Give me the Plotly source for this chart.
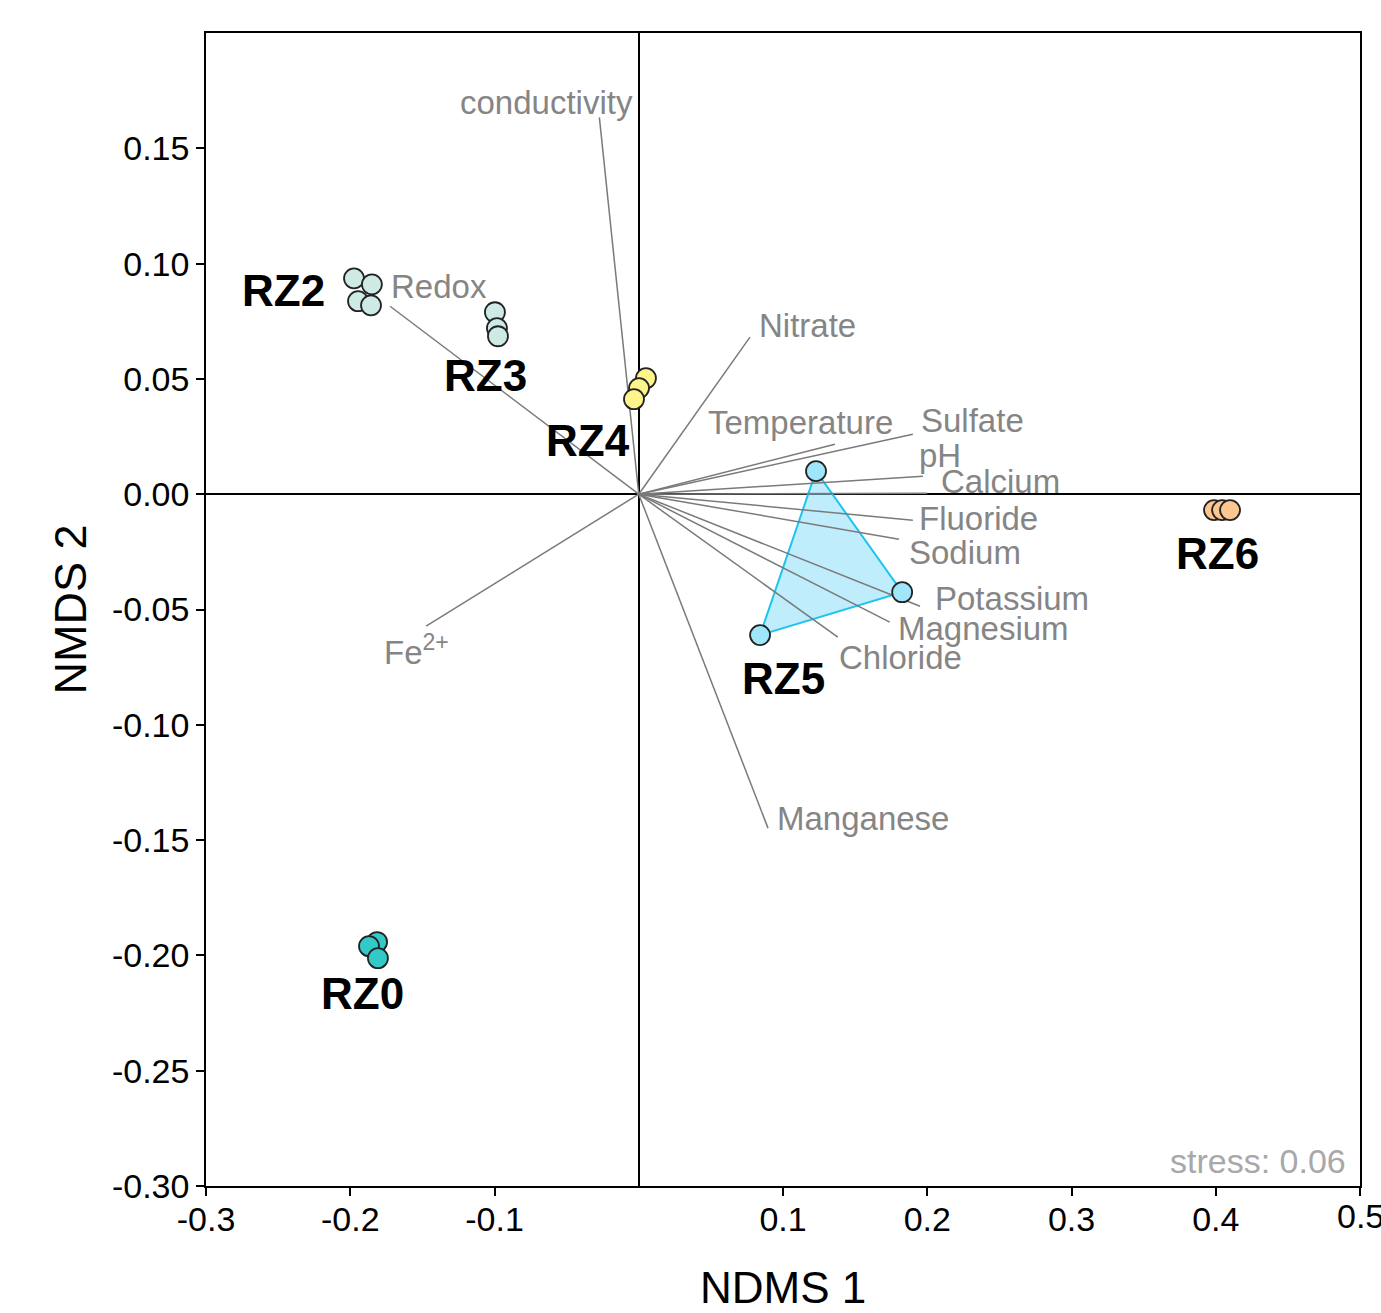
import plotly.graph_objects as go

# ---- Site scores (NMDS) ----
groups = ["RZ0", "RZ2", "RZ3", "RZ4", "RZ5", "RZ6"]
rz0_x = [-0.1814, -0.1870, -0.1808]
rz0_y = [-0.1942, -0.1960, -0.2012]
rz2_x = [-0.1974, -0.1850, -0.1946, -0.1856]
rz2_y = [0.0936, 0.0910, 0.0837, 0.0819]
rz3_x = [-0.0997, -0.0983, -0.0976]
rz3_y = [0.0789, 0.0720, 0.0685]
rz4_x = [0.0050, 0.0002, -0.0033]
rz4_y = [0.0503, 0.0460, 0.0412]
rz5_x = [0.1229, 0.1826, 0.0841]
rz5_y = [0.0100, -0.0425, -0.0611]
rz6_x = [0.3988, 0.4044, 0.4099]
rz6_y = [-0.0069, -0.0069, -0.0069]

# ---- Environmental vectors (endpoints) ----
var_names = ["conductivity", "Redox", "Nitrate", "Temperature", "Sulfate", "pH",
             "Calcium", "Fluoride", "Sodium", "Potassium", "Magnesium", "Chloride",
             "Manganese", "Fe<sup>2+</sup>"]
var_x = [-0.0273, -0.1724, 0.0771, 0.1360, 0.1900, 0.1970, 0.2000, 0.1900,
         0.1804, 0.1950, 0.1740, 0.1380, 0.0896, -0.1474]
var_y = [0.1634, 0.0815, 0.0681, 0.0217, 0.0260, 0.0078, 0.0004, -0.0113,
         -0.0195, -0.0486, -0.0555, -0.0620, -0.1448, -0.0572]

stress_text = "stress: 0.06"
x_tickvals = [-0.3, -0.2, -0.1, 0.1, 0.2, 0.3, 0.4, 0.5]
x_ticktext = ["-0.3", "-0.2", "-0.1", "0.1", "0.2", "0.3", "0.4", "0.5"]
y_tickvals = [0.15, 0.10, 0.05, 0.00, -0.05, -0.10, -0.15, -0.20, -0.25, -0.30]
y_ticktext = ["0.15", "0.10", "0.05", "0.00", "-0.05", "-0.10", "-0.15", "-0.20", "-0.25", "-0.30"]

# ---- Styling / layout helpers (not data) ----
FONT = "Liberation Sans, Arial, sans-serif"
GRAY = "#858585"
group_colors = {"RZ0": "#33c9c9", "RZ2": "#cdeae4", "RZ3": "#cdeae4",
                "RZ4": "#fdf58b", "RZ5": "#a0e6fa", "RZ6": "#fcc690"}
# group label positions (data coords)
group_label_pos = {"RZ0": (-0.1912, -0.2164), "RZ2": (-0.2466, 0.0884),
                   "RZ3": (-0.1059, 0.0516), "RZ4": (-0.0352, 0.0234),
                   "RZ5": (0.1000, -0.0798), "RZ6": (0.4015, -0.0256)}
# vector label anchors: (xanchor, xshift px, yshift px)
var_label_off = [("right", 35, 15), ("left", 0, 20), ("left", 8, 12), ("left", -128, 22),
                 ("left", 7, 14), ("left", -5, 21), ("left", 13, 12), ("left", 5, 2),
                 ("left", 9, -13), ("left", 14, 8), ("left", 7, -6), ("left", 0, -20),
                 ("left", 8, 10), ("left", -43, -24)]

fig = go.Figure()

# RZ5 hull
fig.add_trace(go.Scatter(x=rz5_x + [rz5_x[0]], y=rz5_y + [rz5_y[0]], mode="lines",
                         fill="toself", fillcolor="rgba(140,222,250,0.55)",
                         line=dict(color="#1fc3ef", width=2), hoverinfo="skip",
                         showlegend=False))

# vectors
vx, vy = [], []
for x, y in zip(var_x, var_y):
    vx += [0, x, None]
    vy += [0, y, None]
fig.add_trace(go.Scatter(x=vx, y=vy, mode="lines", line=dict(color="#7a7a7a", width=1.5),
                         hoverinfo="skip", showlegend=False))

# site points
data = {"RZ0": (rz0_x, rz0_y), "RZ2": (rz2_x, rz2_y), "RZ3": (rz3_x, rz3_y),
        "RZ4": (rz4_x, rz4_y), "RZ5": (rz5_x, rz5_y), "RZ6": (rz6_x, rz6_y)}
for g in groups:
    xs, ys = data[g]
    fig.add_trace(go.Scatter(x=xs, y=ys, mode="markers", name=g, showlegend=False,
                             marker=dict(size=20, color=group_colors[g],
                                         line=dict(color="#222222", width=1.8))))

annotations = []
for g in groups:
    gx, gy = group_label_pos[g]
    annotations.append(dict(x=gx, y=gy, text="<b>%s</b>" % g, showarrow=False,
                            xanchor="center", yanchor="middle",
                            font=dict(family=FONT, size=44, color="black")))
for name, x, y, (xa, xs, ys) in zip(var_names, var_x, var_y, var_label_off):
    annotations.append(dict(x=x, y=y, text=name, showarrow=False, xanchor=xa,
                            yanchor="middle", xshift=xs, yshift=ys, borderpad=0,
                            font=dict(family=FONT, size=33, color=GRAY)))
annotations.append(dict(x=1, y=0, xref="paper", yref="paper", text=stress_text,
                        showarrow=False, xanchor="right", yanchor="middle",
                        xshift=-12, yshift=25,
                        font=dict(family=FONT, size=34, color="#a8a8a8")))
annotations.append(dict(x=0.5, y=0, xref="paper", yref="paper", text="NDMS 1",
                        showarrow=False, xanchor="center", yanchor="middle",
                        yshift=-101, font=dict(family=FONT, size=44, color="black")))
annotations.append(dict(x=0, y=0.5, xref="paper", yref="paper", text="NMDS 2",
                        showarrow=False, xanchor="center", yanchor="middle",
                        textangle=-90, xshift=-136,
                        font=dict(family=FONT, size=45, color="black")))
# last x tick label (partly beyond the page edge, like the reference)
annotations.append(dict(x=x_tickvals[-1], y=0, xref="x", yref="paper",
                        text=x_ticktext[-1], showarrow=False, xanchor="center",
                        yanchor="middle", yshift=-30,
                        font=dict(family=FONT, size=34, color="black")))

fig.update_layout(
    width=1381, height=1313,
    margin=dict(l=206, r=21, t=33, b=127),
    paper_bgcolor="white", plot_bgcolor="white",
    font=dict(family=FONT, size=34, color="black"),
    annotations=annotations,
    xaxis=dict(range=[-0.3, 0.5], tickvals=x_tickvals,
               ticktext=x_ticktext[:-1] + [""],
               showgrid=False, zeroline=True, zerolinecolor="black", zerolinewidth=2,
               showline=True, linecolor="black", linewidth=1.5, mirror=True,
               ticks="outside", ticklen=8, tickwidth=1.5, tickcolor="black",
               ticklabelstandoff=-6,
               tickfont=dict(family=FONT, size=34, color="black")),
    yaxis=dict(range=[-0.30, 0.20], tickvals=y_tickvals, ticktext=y_ticktext,
               showgrid=False, zeroline=True, zerolinecolor="black", zerolinewidth=2,
               showline=True, linecolor="black", linewidth=1.5, mirror=True,
               ticks="outside", ticklen=8, tickwidth=1.5, tickcolor="black",
               tickfont=dict(family=FONT, size=34, color="black")),
)

fig.write_html("out.html")
